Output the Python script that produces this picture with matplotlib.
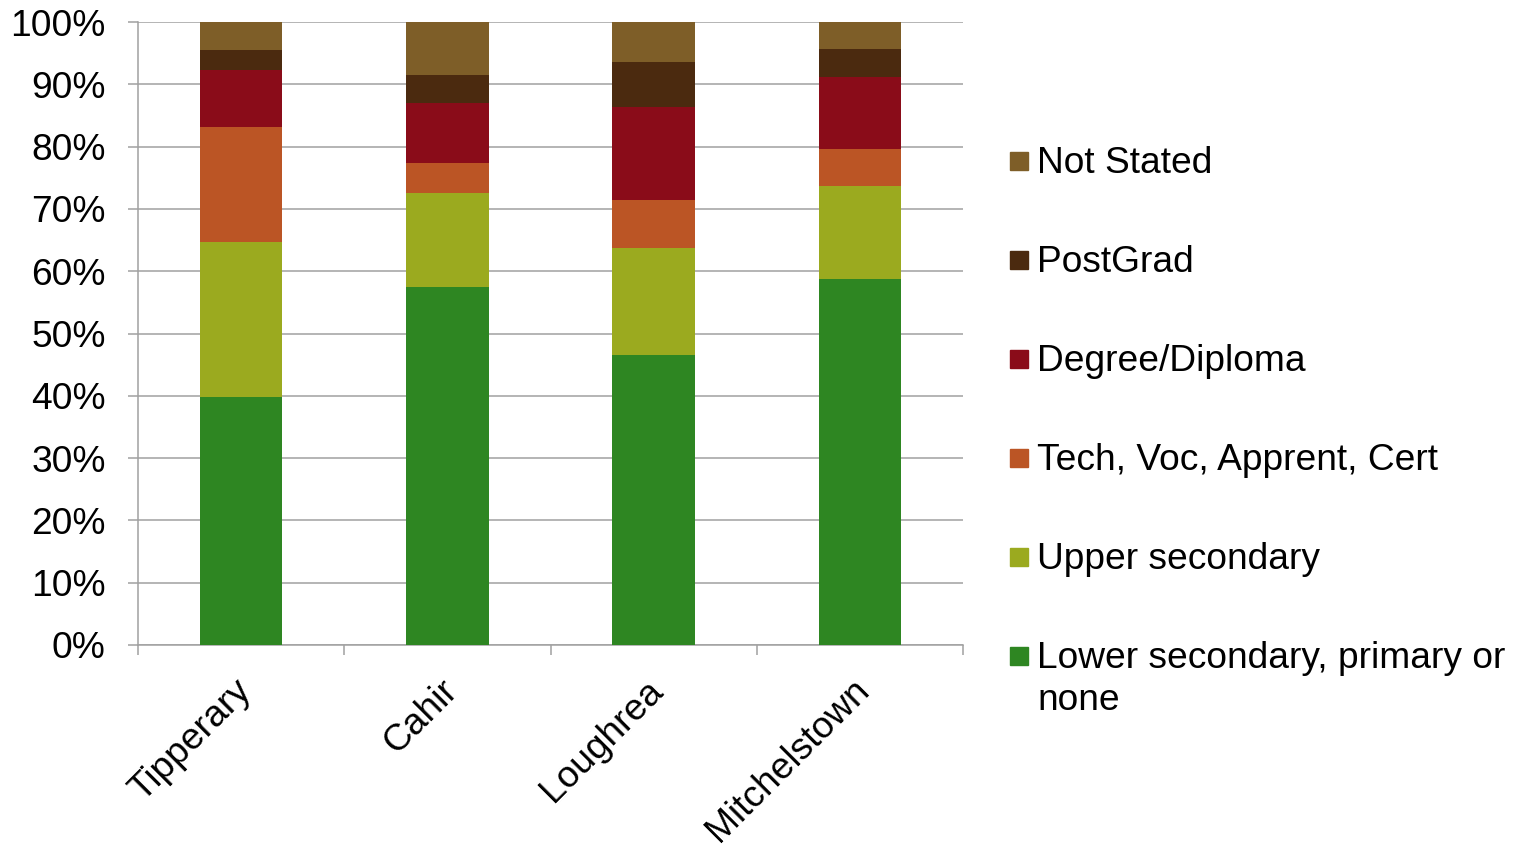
import matplotlib; matplotlib.use("Agg")
import matplotlib.pyplot as plt
from matplotlib.patches import Rectangle
from matplotlib.ticker import FixedLocator, PercentFormatter
from matplotlib.transforms import ScaledTranslation

towns = ["Tipperary", "Cahir", "Loughrea", "Mitchelstown"]
series = ["Lower secondary, primary or\nnone", "Upper secondary",
          "Tech, Voc, Apprent, Cert", "Degree/Diploma", "PostGrad", "Not Stated"]
lower_sec = [39.8, 57.5, 46.6, 58.75]
upper_sec = [24.9, 15.1, 17.1, 14.95]
tech_voc = [18.5, 4.7, 7.8, 5.9]
degree = [9.15, 9.7, 14.9, 11.5]
postgrad = [3.2, 4.5, 7.2, 4.5]
not_stated = [4.45, 8.5, 6.4, 4.4]
values = [lower_sec, upper_sec, tech_voc, degree, postgrad, not_stated]
colors = ["#2E8622", "#9BAA1F", "#BB5525", "#8A0C19", "#4B2A0F", "#7E5E28"]

plt.rcParams["font.family"] = ["Liberation Sans", "DejaVu Sans"]
FS = 26.7
fig = plt.figure(figsize=(15.14, 8.44), dpi=100)
ax = fig.add_axes([138/1514, 1-645/844, (963-138)/1514, (645-22)/844])

x = list(range(len(towns)))
bottom = [0]*len(towns)
for vals, c in zip(values, colors):
    ax.bar(x, vals, width=0.4, bottom=bottom, color=c, zorder=3)
    bottom = [b+v for b, v in zip(bottom, vals)]

ax.set_xlim(-0.5, 3.5)
ax.set_ylim(0, 100)
ax.yaxis.set_major_locator(FixedLocator(range(0, 101, 10)))
ax.yaxis.set_major_formatter(PercentFormatter(decimals=0))
ax.grid(axis="y", color="#A0A0A0", lw=1.1, zorder=0)
ax.set_axisbelow(True)
for s in ["top", "right"]:
    ax.spines[s].set_visible(False)
for s in ["left", "bottom"]:
    ax.spines[s].set_color("#A0A0A0")
    ax.spines[s].set_linewidth(1.1)
ax.tick_params(axis="y", length=7.2, width=1.1, color="#A0A0A0", pad=16,
               labelsize=FS, labelcolor="black")

ax.set_xticks(x)
ax.set_xticklabels(towns, rotation=45, ha="right", va="top", rotation_mode="anchor", fontsize=FS)
ax.set_xticks([-0.5, 0.5, 1.5, 2.5, 3.5], minor=True)
ax.tick_params(axis="x", which="major", length=0, pad=20)
ax.tick_params(axis="x", which="minor", length=7.2, width=1.1, color="#A0A0A0")
for lab in ax.get_xticklabels():
    lab.set_transform(lab.get_transform() + ScaledTranslation(-0.08, 0, fig.dpi_scale_trans))

# legend, top entry = last series
for i, (name, c) in enumerate(zip(series[::-1], colors[::-1])):
    yc = 161 + 99*i
    fig.patches.append(Rectangle((1010/1514, 1-(yc+9)/844), 18/1514, 18/844,
                                 transform=fig.transFigure, color=c))
    fig.text(1037/1514, 1-(yc-15)/844, name, fontsize=FS, va="top", ha="left",
             linespacing=1.27)

fig.savefig("out.png", dpi=100)
